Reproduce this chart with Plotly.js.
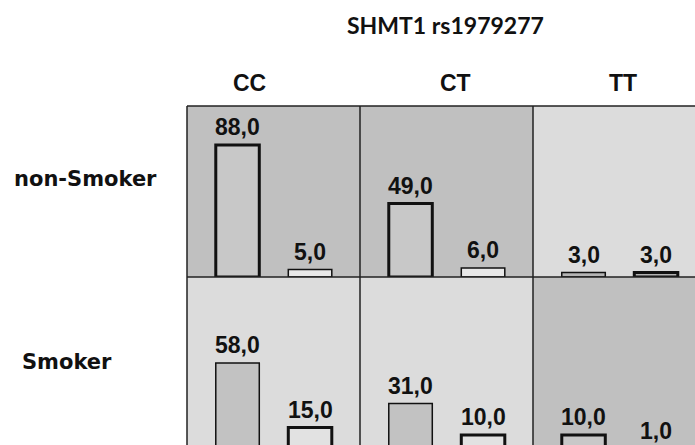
<!DOCTYPE html>
<html><head><meta charset="utf-8">
<script src="https://cdn.plot.ly/plotly-3.0.1.min.js"></script>
<style>html,body{margin:0;padding:0;overflow:hidden;background:#fff}</style>
</head><body><div id="chart"></div>
<script>
// ---- data ----
const chartTitle = "SHMT1 rs1979277";
const genotypes = ["CC", "CT", "TT"];
const groups = ["non-Smoker", "Smoker"];
const barSlots = [0, 1];
const nonSmokerFirst = [88, 49, 3];
const nonSmokerSecond = [5, 6, 3];
const smokerFirst = [58, 31, 10];
const smokerSecond = [15, 10, 1];

// ---- styles ----
const DARK = "#c0c0c0", LIGHT = "#dcdcdc";
const panelBg = [[DARK, DARK, LIGHT], [LIGHT, LIGHT, DARK]];
const barFill = [
  [["#c8c8c8", "#e8e8e8"], ["#c8c8c8", "#e8e8e8"], ["#b4b4b4", "#b4b4b4"]],
  [["#c2c2c2", "#e2e2e2"], ["#c2c2c2", "#e2e2e2"], ["#c8c8c8", "#c8c8c8"]]
];
const barLineW = [
  [[3, 1.5], [3, 1.5], [1.5, 3]],
  [[1.5, 3], [1.5, 3], [3, 3]]
];
const rowValues = [[nonSmokerFirst, nonSmokerSecond], [smokerFirst, smokerSecond]];

const W = 712, H = 460;
const gridLeft = 187, panelW = 173;
const rowTop = [106, 277], rowBot = [277, 450];
const pxX = p => p / W, pxY = p => 1 - p / H;
const ARIAL = "Liberation Sans, Arial, sans-serif";
const numFont = {family: ARIAL, size: 23, color: "#111"};
const fmt = v => v.toFixed(1).replace(".", ",");

const traces = [], layout = {
  width: W, height: H, margin: {l: 0, r: 0, t: 0, b: 0},
  paper_bgcolor: "#fff", plot_bgcolor: "rgba(0,0,0,0)", showlegend: false,
  bargap: 0, annotations: [], shapes: []
};

for (let r = 0; r < 2; r++) {
  for (let c = 0; c < 3; c++) {
    const k = r * 3 + c + 1;
    const xa = "x" + (k === 1 ? "" : k), ya = "y" + (k === 1 ? "" : k);
    const pxPerUnit = 1.5;
    const rowH = rowBot[r] - rowTop[r];
    layout["xaxis" + (k === 1 ? "" : k)] = {
      domain: [pxX(gridLeft + panelW * c), pxX(gridLeft + panelW * (c + 1))],
      range: [-0.697, 1.689], visible: false, fixedrange: true, anchor: ya
    };
    layout["yaxis" + (k === 1 ? "" : k)] = {
      domain: [pxY(rowBot[r]), pxY(rowTop[r])],
      range: [0, rowH / pxPerUnit], visible: false, fixedrange: true, anchor: xa
    };
    const vals = barSlots.map(s => rowValues[r][s][c]);
    traces.push({
      type: "bar", x: barSlots, y: vals, xaxis: xa, yaxis: ya, width: 0.6,
      marker: {color: barFill[r][c], line: {color: "#111", width: barLineW[r][c]}},
      hoverinfo: "skip", cliponaxis: false
    });
    barSlots.forEach((s, i) => {
      layout.annotations.push({
        xref: xa, yref: ya, x: s, y: vals[i], text: fmt(vals[i]), showarrow: false,
        yanchor: "bottom", yshift: 3, font: Object.assign({}, numFont)
      });
    });
    layout.shapes.push({
      type: "rect", xref: xa + " domain", yref: ya + " domain", x0: 0, x1: 1, y0: 0, y1: 1,
      fillcolor: panelBg[r][c], line: {width: 0}, layer: "below"
    });
  }
}

// grid lines
const lineStyle = {color: "#222", width: 1.5};
[0, 1, 2, 3].forEach(i => {
  const x = pxX(gridLeft + panelW * i);
  layout.shapes.push({type: "line", xref: "paper", yref: "paper", x0: x, x1: x, y0: pxY(rowTop[0]), y1: pxY(rowBot[1]), line: lineStyle});
});
[rowTop[0], rowBot[0], rowBot[1]].forEach(py => {
  layout.shapes.push({type: "line", xref: "paper", yref: "paper", x0: pxX(gridLeft), x1: pxX(gridLeft + panelW * 3), y0: pxY(py), y1: pxY(py), line: lineStyle});
});

// headers
const headerX = [249, 455, 623];
genotypes.forEach((g, i) => layout.annotations.push({
  xref: "paper", yref: "paper", x: pxX(headerX[i]), y: pxY(83), text: g, showarrow: false,
  xanchor: "center", yanchor: "middle", font: {family: ARIAL, size: 23, color: "#111"}
}));
const rowLabelX = [12, 20], rowLabelY = [179, 362];
groups.forEach((g, i) => layout.annotations.push({
  xref: "paper", yref: "paper", x: pxX(rowLabelX[i]), y: pxY(rowLabelY[i]), text: g, showarrow: false,
  xanchor: "left", yanchor: "middle", font: {family: "DejaVu Sans, sans-serif", size: 21, color: "#111"}
}));
layout.annotations.push({
  xref: "paper", yref: "paper", x: pxX(445), y: pxY(25), text: chartTitle, showarrow: false,
  xanchor: "center", yanchor: "middle", font: {family: "Lato, Calibri, sans-serif", size: 23, color: "#111"}
});
layout.annotations.forEach(a => { a.font.weight = "bold"; });

Plotly.newPlot("chart", traces, layout, {staticPlot: true, displayModeBar: false});
</script></body></html>
